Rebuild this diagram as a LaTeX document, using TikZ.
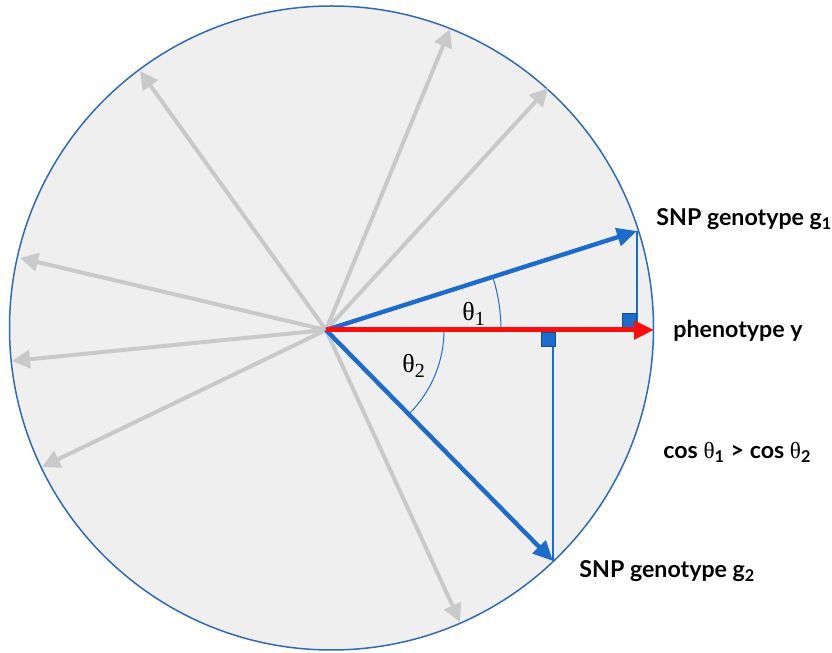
\documentclass[tikz,border=0pt]{standalone}
\usepackage{fontspec}
\setmainfont{Lato}
\newfontfamily\greekfont{Liberation Serif}
\usetikzlibrary{arrows.meta,calc}
\definecolor{rim}{HTML}{2F6BB3}
\definecolor{vecblue}{HTML}{1D6CCB}
\definecolor{vecgrey}{HTML}{C9C9C9}
\definecolor{disc}{HTML}{EFEFEF}
\definecolor{phenored}{HTML}{FF0D0D}
\newcommand{\idx}[1]{\raisebox{-0.35ex}{\fontsize{10}{12}\selectfont #1}}

\begin{document}
\begin{tikzpicture}[x=0.5pt, y=0.5pt,
    ball/.style={draw=rim, line width=0.75pt, fill=disc},
    other/.style={-{Triangle[length=9pt,width=9pt]}, line width=2pt, draw=vecgrey},
    snp/.style={-{Triangle[length=10pt,width=9pt]}, line width=2.2pt, draw=vecblue},
    trait/.style={-{Triangle[length=10pt,width=9pt]}, line width=2.5pt, draw=phenored},
    proj/.style={draw=vecblue, line width=0.7pt},
    rightmark/.style={draw=vecblue!70!black, fill=vecblue, line width=0.4pt,
      minimum size=7pt, inner sep=0pt},
    anglearc/.style={draw=vecblue, line width=0.5pt},
    lbl/.style={font=\bfseries\fontsize{11.6}{14}\selectfont, anchor=base west, inner sep=0pt},
    ang/.style={font=\greekfont\fontsize{13}{15}\selectfont, anchor=base west, inner sep=0pt},
  ]
  \useasboundingbox (0,0) rectangle (832,653);

  % ------------------------------------------------------------ points
  \coordinate (C) at (331.5,325);
  \coordinate (O) at (326,323);
  \coordinate (y) at (654,323);
  \coordinate (g1) at (637,422);
  \coordinate (g2) at (553,92);
  \coordinate (f1) at (g1 |- O);
  \coordinate (f2) at (g2 |- O);

  \coordinate (o1) at (140,582);
  \coordinate (o2) at (450,624);
  \coordinate (o3) at (548,565);
  \coordinate (o4) at (20,395);
  \coordinate (o5) at (12,292);
  \coordinate (o6) at (42,186);
  \coordinate (o7) at (460,31);

  % ------------------------------------------------------------ sphere
  \draw[ball] (C) circle[radius=161pt];

  % ------------------------------------------------------------ other vectors
  \draw[other] (O) -- (o1);
  \draw[other] (O) -- (o2);
  \draw[other] (O) -- (o3);
  \draw[other] (O) -- (o4);
  \draw[other] (O) -- (o5);
  \draw[other] (O) -- (o6);
  \draw[other] (O) -- (o7);

  % ------------------------------------------------------------ projections
  \draw[proj] (g1) -- (f1);
  \draw[proj] (g2) -- (f2);
  \node[rightmark, anchor=south east] (sq1) at ([yshift=1pt]f1) {};
  \node[rightmark, anchor=north east] (sq2) at ([xshift=1.2pt, yshift=-1pt]f2) {};

  % ------------------------------------------------------------ angles
  \draw[anglearc] ($(O)+(175,0)$) arc[start angle=0, end angle=17.7, radius=87.5pt];
  \draw[anglearc] ($(O)+(118,0)$) arc[start angle=0, end angle=-45.5, radius=59pt];
  \node[ang] (t1) at (462,332) {θ\idx{1}};
  \node[ang] (t2) at (402,280) {θ\idx{2}};

  % ------------------------------------------------------------ main vectors
  \draw[snp] (O) -- (g1);
  \draw[snp] (O) -- (g2);
  \draw[trait] (O) -- (y);

  % ------------------------------------------------------------ labels
  \node[lbl] (lg1) at (656,427) {SNP genotype g\textsubscript{1}};
  \node[lbl] (ly) at (673,315) {phenotype y};
  \node[lbl] (lcos) at (663,194) {cos {\greekfont\mdseries θ}\textsubscript{1} > cos {\greekfont\mdseries θ}\textsubscript{2}};
  \node[lbl] (lg2) at (579,75) {SNP genotype g\textsubscript{2}};
\end{tikzpicture}
\end{document}
